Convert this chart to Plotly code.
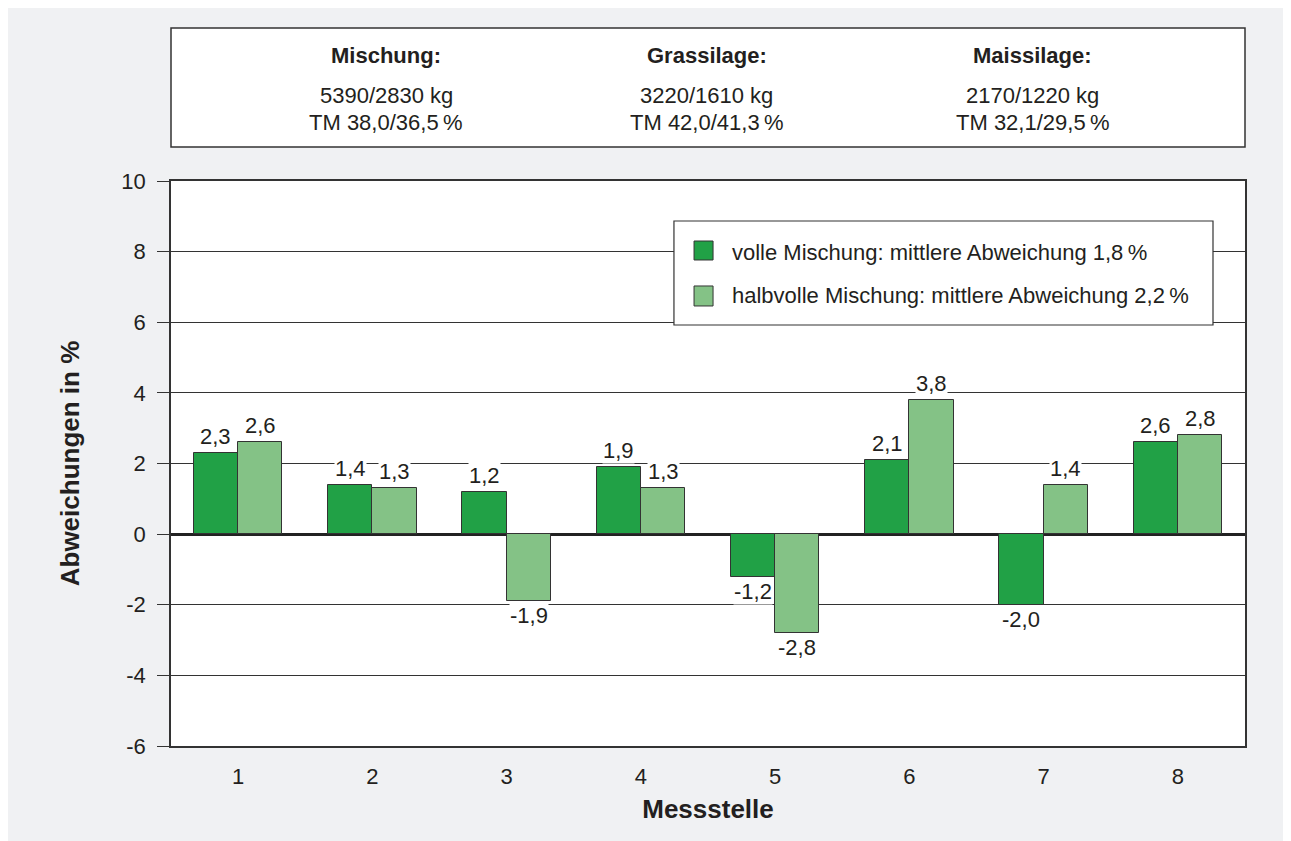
import plotly.graph_objects as go

# ---- data ----
messstellen = [1, 2, 3, 4, 5, 6, 7, 8]
messstelle_labels = ["1", "2", "3", "4", "5", "6", "7", "8"]
volle = [2.3, 1.4, 1.2, 1.9, -1.2, 2.1, -2.0, 2.6]
halbvolle = [2.6, 1.3, -1.9, 1.3, -2.8, 3.8, 1.4, 2.8]
series_names = ["volle Mischung: mittlere Abweichung 1,8\u2009%",
                "halbvolle Mischung: mittlere Abweichung 2,2\u2009%"]
y_tickvals = [-6, -4, -2, 0, 2, 4, 6, 8, 10]
y_ticktext = ["-6", "-4", "-2", "0", "2", "4", "6", "8", "10"]
info_headings = ["Mischung:", "Grassilage:", "Maissilage:"]
info_mass = ["5390/2830 kg", "3220/1610 kg", "2170/1220 kg"]
info_tm = ["TM 38,0/36,5\u2009%", "TM 42,0/41,3\u2009%", "TM 32,1/29,5\u2009%"]

# ---- style ----
FONT = "Liberation Sans, Arial, Helvetica, sans-serif"
TXT = "#231f20"
DARK = "#21a146"
LIGHT = "#84c286"
EDGE = "#333333"
BG = "#f0f1f3"
BW = 0.33
FS = 22

def fmt(v):
    return f"{v:.1f}".replace(".", ",")

fig = go.Figure()
fig.add_trace(go.Bar(x=messstellen, y=volle, offset=-BW, width=BW, name=series_names[0],
                     marker=dict(color=DARK, line=dict(color=EDGE, width=1)), showlegend=False))
fig.add_trace(go.Bar(x=messstellen, y=halbvolle, offset=0, width=BW, name=series_names[1],
                     marker=dict(color=LIGHT, line=dict(color=EDGE, width=1)), showlegend=False))

annotations = []
for series, shift in ((volle, -BW / 2), (halbvolle, BW / 2)):
    for xv, v in zip(messstellen, series):
        annotations.append(dict(
            x=xv + shift, y=v, xref="x", yref="y", text=fmt(v), showarrow=False,
            xanchor="center", yanchor="bottom" if v >= 0 else "top",
            yshift=3 if v >= 0 else -1,
            bgcolor="white", borderpad=0,
            font=dict(family=FONT, size=FS, color=TXT)))

# info box texts
col_x = [0.2002, 0.499, 0.8026]
for cx, h, m, t in zip(col_x, info_headings, info_mass, info_tm):
    for yy, txt in ((1.2230, f"<b>{h}</b>"), (1.1522, m), (1.1044, t)):
        annotations.append(dict(x=cx, y=yy, xref="paper", yref="paper", text=txt,
                                xanchor="center", yanchor="middle", showarrow=False,
                                font=dict(family=FONT, size=FS, color=TXT)))

# manual legend texts
for yy, name in ((0.8743, series_names[0]), (0.7965, series_names[1])):
    annotations.append(dict(x=0.5205, y=yy, xref="paper", yref="paper", text=name,
                            xanchor="left", yanchor="middle", showarrow=False,
                            font=dict(family=FONT, size=FS, color=TXT)))

shapes = [
    # info box
    dict(type="rect", xref="paper", yref="paper", x0=0, x1=1, y0=1.0602, y1=1.2708,
         fillcolor="white", line=dict(color=EDGE, width=1.5)),
    # legend box
    dict(type="rect", xref="paper", yref="paper", x0=0.4683, x1=0.9702, y0=0.7451, y1=0.9292,
         fillcolor="white", line=dict(color=EDGE, width=1.2), layer="above"),
    dict(type="rect", xref="paper", yref="paper", x0=0.4870, x1=0.5047, y0=0.8602, y1=0.8938,
         fillcolor=DARK, line=dict(color=EDGE, width=1), layer="above"),
    dict(type="rect", xref="paper", yref="paper", x0=0.4870, x1=0.5047, y0=0.7788, y1=0.8142,
         fillcolor=LIGHT, line=dict(color=EDGE, width=1), layer="above"),
]

fig.update_layout(
    width=1291, height=841,
    margin=dict(l=163, r=54, t=173, b=103),
    paper_bgcolor=BG, plot_bgcolor="white",
    font=dict(family=FONT, size=FS, color=TXT),
    annotations=annotations, shapes=shapes,
    bargap=0, barmode="overlay",
)
fig.update_xaxes(
    range=[0.5, 8.5], tickvals=messstellen, ticktext=messstelle_labels,
    showgrid=False, zeroline=False, ticks="", ticklabelstandoff=10,
    showline=True, linecolor=EDGE, linewidth=1.5, mirror=True,
    title=dict(text="<b>Messstelle</b>", font=dict(size=26), standoff=12),
)
fig.update_yaxes(
    range=[-6, 10], tickvals=y_tickvals, ticktext=y_ticktext,
    showgrid=True, gridcolor="#333333", gridwidth=1.3,
    zeroline=True, zerolinecolor="#222222", zerolinewidth=2.5,
    ticks="outside", ticklen=12, tickcolor="#333333", tickwidth=1.3, ticklabelstandoff=7,
    showline=True, linecolor=EDGE, linewidth=1.5, mirror=True,
    title=dict(text="<b>Abweichungen in %</b>", font=dict(size=26), standoff=34),
)

fig.write_html("out.html", post_script="document.body.style.overflow='hidden';")
